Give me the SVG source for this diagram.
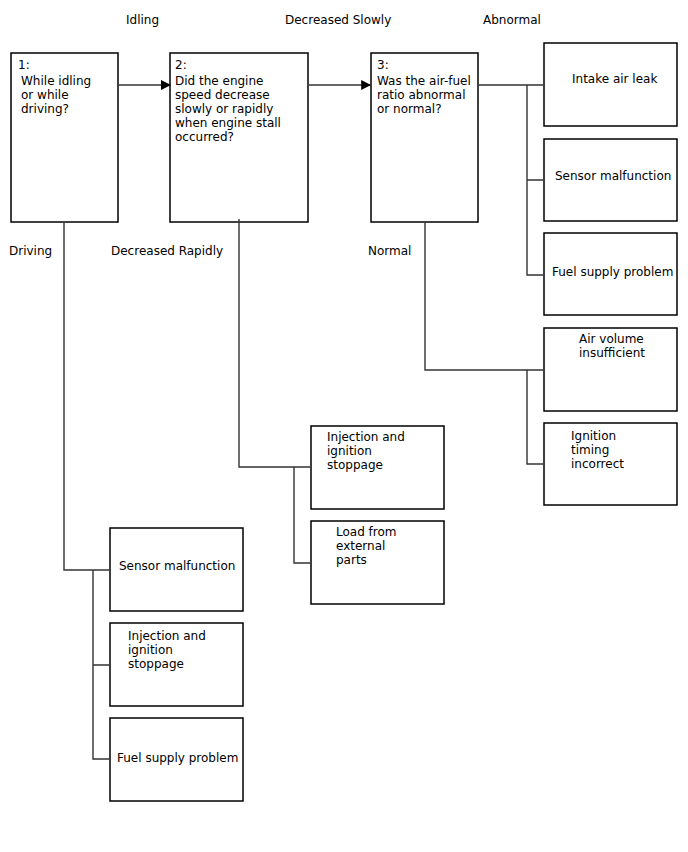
<svg xmlns="http://www.w3.org/2000/svg" width="688" height="852" viewBox="0 0 688 852">
<style>
rect.box{fill:#fff;stroke:#000;stroke-width:1.5}
text{font-family:"DejaVu Sans",sans-serif;font-size:12px;fill:#000}
.conn path{fill:none;stroke:#333;stroke-width:1.4}
</style>
<defs>
<marker id="arr" markerWidth="10" markerHeight="10" refX="9" refY="5" orient="auto" markerUnits="userSpaceOnUse">
<path d="M0,0 L10,5 L0,10 Z" fill="#000"/>
</marker>
</defs>
<rect width="688" height="852" fill="#fff"/>
<g id="labels">
<text x="126" y="24">Idling</text>
<text x="285" y="24">Decreased Slowly</text>
<text x="483" y="24">Abnormal</text>
<text x="9" y="255">Driving</text>
<text x="111" y="255">Decreased Rapidly</text>
<text x="368" y="255">Normal</text>
</g>
<g id="n1"><rect class="box" x="11" y="53" width="107" height="169"/>
<text x="18" y="69">1:</text><text x="21" y="85">While idling</text><text x="21" y="99">or while</text><text x="21" y="113">driving?</text></g>
<g id="n2"><rect class="box" x="170" y="53" width="138" height="169"/>
<text x="175" y="69">2:</text><text x="175" y="85">Did the engine</text><text x="175" y="99">speed decrease</text><text x="175" y="113">slowly or rapidly</text><text x="175" y="127">when engine stall</text><text x="175" y="141">occurred?</text></g>
<g id="n3"><rect class="box" x="371" y="53" width="107" height="169"/>
<text x="377" y="69">3:</text><text x="377" y="85">Was the air-fuel</text><text x="377" y="99">ratio abnormal</text><text x="377" y="113">or normal?</text></g>
<g id="intake"><rect class="box" x="544" y="43" width="133" height="83"/><text x="572" y="83">Intake air leak</text></g>
<g id="sensor3"><rect class="box" x="544" y="139" width="133" height="82"/><text x="555" y="180">Sensor malfunction</text></g>
<g id="fuel3"><rect class="box" x="544" y="233" width="133" height="82"/><text x="552" y="276">Fuel supply problem</text></g>
<g id="airvol"><rect class="box" x="544" y="328" width="133" height="83"/><text x="579" y="343">Air volume</text><text x="579" y="357">insufficient</text></g>
<g id="ignition"><rect class="box" x="544" y="423" width="133" height="82"/><text x="571" y="440">Ignition</text><text x="571" y="454">timing</text><text x="571" y="468">incorrect</text></g>
<g id="inj2"><rect class="box" x="311" y="426" width="133" height="83"/><text x="327" y="441">Injection and</text><text x="327" y="455">ignition</text><text x="327" y="469">stoppage</text></g>
<g id="load"><rect class="box" x="311" y="521" width="133" height="83"/><text x="336" y="536">Load from</text><text x="336" y="550">external</text><text x="336" y="564">parts</text></g>
<g id="sensor1"><rect class="box" x="110" y="528" width="133" height="83"/><text x="119" y="570">Sensor malfunction</text></g>
<g id="inj1"><rect class="box" x="110" y="623" width="133" height="83"/><text x="128" y="640">Injection and</text><text x="128" y="654">ignition</text><text x="128" y="668">stoppage</text></g>
<g id="fuel1"><rect class="box" x="110" y="718" width="133" height="83"/><text x="117" y="762">Fuel supply problem</text></g>
<g class="conn" id="connectors">
<path d="M118.8,85 H170" marker-end="url(#arr)"/>
<path d="M308.8,85 H370.2" marker-end="url(#arr)"/>
<path d="M478.8,85 H543.2 M527,85 V275 H543.2 M527,180 H543.2"/>
<path d="M425,222.8 V370 H543.2 M527,370 V464 H543.2"/>
<path d="M239,219 V467 H310.2 M294,467 V563 H310.2"/>
<path d="M64,222.8 V570 H109.2 M93,570 V759 H109.2 M93,665 H109.2"/>
</g>
</svg>
